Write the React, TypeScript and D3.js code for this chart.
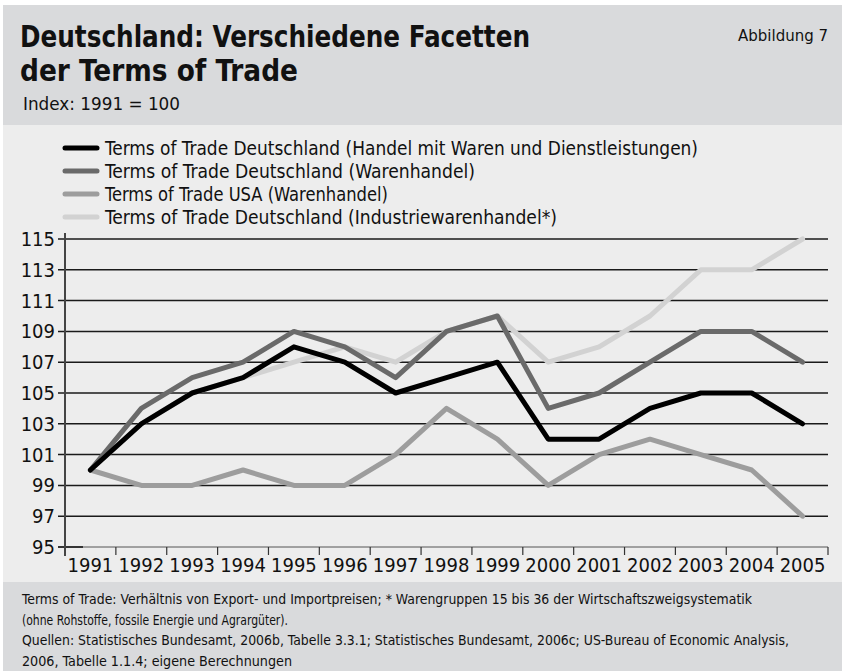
import React from "react";
import * as d3 from "d3";

const years = ["1991", "1992", "1993", "1994", "1995", "1996", "1997", "1998", "1999", "2000", "2001", "2002", "2003", "2004", "2005"];
const deGoodsServices = [100, 103, 105, 106, 108, 107, 105, 106, 107, 102, 102, 104, 105, 105, 103];
const deGoods = [100, 104, 106, 107, 109, 108, 106, 109, 110, 104, 105, 107, 109, 109, 107];
const usaGoods = [100, 99, 99, 100, 99, 99, 101, 104, 102, 99, 101, 102, 101, 100, 97];
const deIndustrial = [100, 103, 105, 106, 107, 108, 107, 109, 110, 107, 108, 110, 113, 113, 115];
const yTicks = [95, 97, 99, 101, 103, 105, 107, 109, 111, 113, 115];

const legendLabels = [
  "Terms of Trade Deutschland (Handel mit Waren und Dienstleistungen)",
  "Terms of Trade Deutschland (Warenhandel)",
  "Terms of Trade USA (Warenhandel)",
  "Terms of Trade Deutschland (Industriewarenhandel*)",
];
const legendWidths = [593, 370, 283, 452];
const colors = ["#000000", "#6a6a6a", "#9d9d9d", "#d2d2d2"];
const seriesList = [deGoodsServices, deGoods, usaGoods, deIndustrial];

const footnotes = [
  "Terms of Trade: Verhältnis von Export- und Importpreisen; * Warengruppen 15 bis 36 der Wirtschaftszweigsystematik",
  "(ohne Rohstoffe, fossile Energie und Agrargüter).",
  "Quellen: Statistisches Bundesamt, 2006b, Tabelle 3.3.1; Statistisches Bundesamt, 2006c; US-Bureau of Economic Analysis,",
  "2006, Tabelle 1.1.4; eigene Berechnungen",
];
const footWidths = [730, 266, 767, 270];

const W = 842;
const H = 671;
const font = "'Liberation Sans Narrow', 'DejaVu Sans Condensed', 'Open Sans', sans-serif";

export default function App() {
  const x = d3.scaleBand().domain(years).range([65, 828]);
  const y = d3.scaleLinear().domain([95, 115]).range([547, 239]);
  const line = d3
    .line<number>()
    .x((_d, i) => (x(years[i]) as number) + x.bandwidth() / 2)
    .y((d) => y(d));

  // draw order: lightest at the bottom, black on top
  const order = [3, 2, 1, 0];

  return (
    <svg
      width={W}
      height={H}
      style={{ position: "absolute", left: 0, top: 0, fontFamily: font }}
    >
      <rect x={0} y={0} width={W} height={H} fill="#ffffff" />
      <rect x={3} y={5} width={W - 3} height={120} fill="#d9dadc" />
      <rect x={3} y={125} width={W - 3} height={457} fill="#ededed" />
      <rect x={3} y={582} width={W - 3} height={H - 582} fill="#d9dadc" />

      <text x={20} y={47} fontSize={31} fontWeight="bold" fill="#111" textLength={510} lengthAdjust="spacingAndGlyphs">
        Deutschland: Verschiedene Facetten
      </text>
      <text x={20} y={81} fontSize={31} fontWeight="bold" fill="#111" textLength={278} lengthAdjust="spacingAndGlyphs">
        der Terms of Trade
      </text>
      <text x={23} y={110} fontSize={17} fill="#111" textLength={157} lengthAdjust="spacingAndGlyphs">
        Index: 1991 = 100
      </text>
      <text x={828} y={41} fontSize={16} fill="#111" textAnchor="end" textLength={90} lengthAdjust="spacingAndGlyphs">
        Abbildung 7
      </text>

      {legendLabels.map((label, i) => (
        <g key={label} transform={`translate(0,${148 + i * 23})`}>
          <line x1={65} x2={97} y1={0} y2={0} stroke={colors[i]} strokeWidth={5} strokeLinecap="round" />
          <text x={105} y={6.5} fontSize={19} fill="#111" textLength={legendWidths[i]} lengthAdjust="spacingAndGlyphs">
            {label}
          </text>
        </g>
      ))}

      {yTicks.map((t) => (
        <g key={t}>
          {t !== 95 && (
            <line x1={58} x2={828} y1={y(t)} y2={y(t)} stroke="#1a1a1a" strokeWidth={1.5} />
          )}
          <text x={55} y={y(t) + 7} fontSize={20} textAnchor="end" fill="#111">
            {t}
          </text>
        </g>
      ))}

      {/* x axis */}
      <line x1={58} x2={828} y1={y(95)} y2={y(95)} stroke="#555" strokeWidth={1} />
      <line x1={58} x2={83} y1={y(95)} y2={y(95)} stroke="#111" strokeWidth={1.5} />
      <line x1={65} x2={65} y1={233} y2={556} stroke="#444" strokeWidth={2} />
      {years.map((yr) => (
        <g key={yr}>
          <line
            x1={(x(yr) as number) + x.bandwidth()}
            x2={(x(yr) as number) + x.bandwidth()}
            y1={y(95)}
            y2={555}
            stroke="#333"
            strokeWidth={1.2}
          />
          <text
            x={(x(yr) as number) + x.bandwidth() / 2}
            y={572}
            fontSize={20}
            textAnchor="middle"
            fill="#111"
          >
            {yr}
          </text>
        </g>
      ))}

      {order.map((i) => (
        <path
          key={i}
          d={line(seriesList[i]) as string}
          fill="none"
          stroke={colors[i]}
          strokeWidth={5}
          strokeLinejoin="round"
          strokeLinecap="round"
        />
      ))}

      {footnotes.map((f, i) => (
        <text key={i} x={22} y={604 + i * 20.5} fontSize={13.5} fill="#111" textLength={footWidths[i]} lengthAdjust="spacingAndGlyphs">
          {f}
        </text>
      ))}
    </svg>
  );
}
